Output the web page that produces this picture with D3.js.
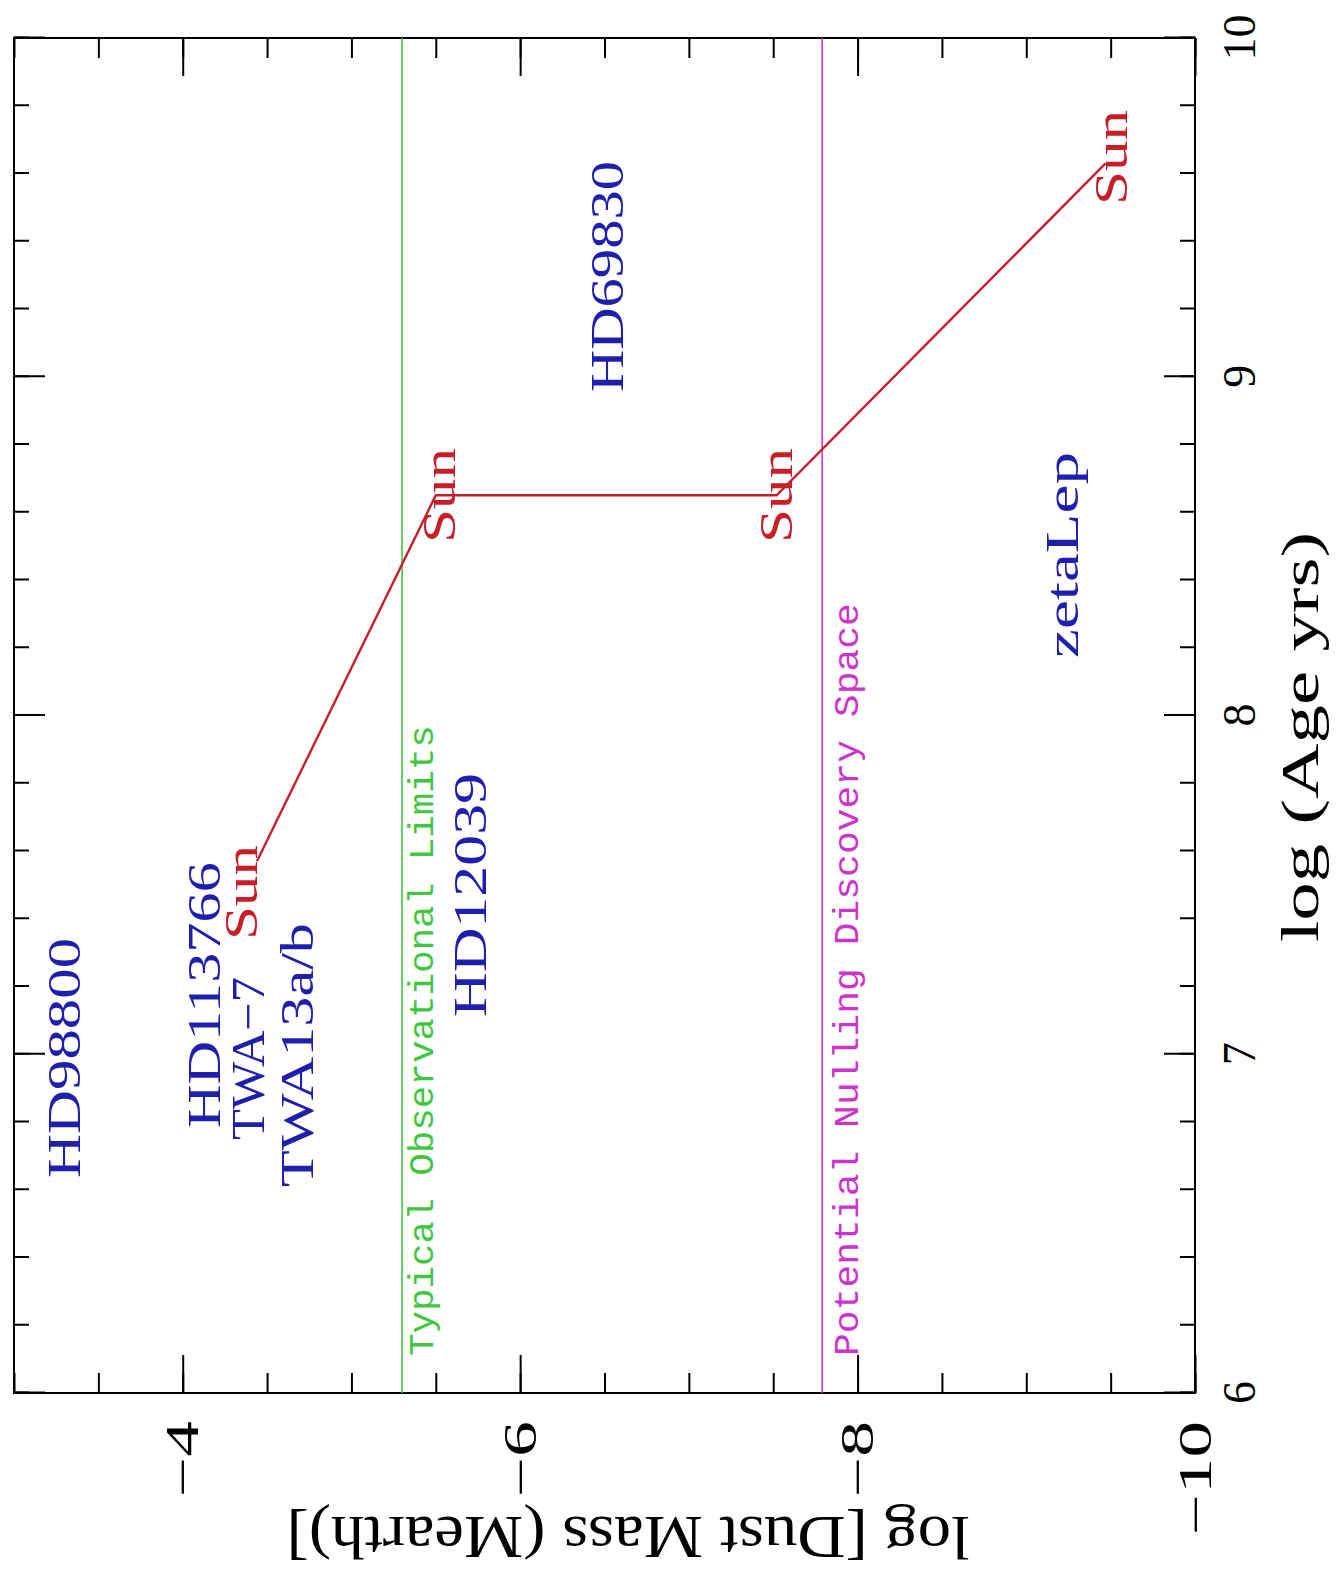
<!DOCTYPE html>
<html>
<head>
<meta charset="utf-8">
<script src="https://cdn.jsdelivr.net/npm/d3@7"></script>
<style>
  body { margin: 0; background: #fff; }
  svg { display: block; }
</style>
</head>
<body>
<svg id="chart" width="1340" height="1575"></svg>
<script>
// Dust-mass evolution track of the Sun (log age in years, log dust mass in Earth masses)
const trackAge  = [7.57, 8.65, 8.65, 9.63];
const trackMass = [-4.44, -5.50, -7.52, -9.47];

// "Sun" markers placed along the track (log age at text start, log mass at baseline)
const sunAge  = [7.337, 8.509, 8.509, 9.507];
const sunMass = [-4.44, -5.614, -7.612, -9.597];

// Reference limits drawn as lines of constant dust mass
const limitNames     = ["Typical Observational Limits", "Potential Nulling Discovery Space"];
const limitMass      = [-5.30, -7.79];
const limitLabelAge  = [6.109, 6.109];
const limitLabelMass = [-5.484, -8.003];

// Known debris-disk stars
const starNames = ["HD98800", "HD113766", "TWA\u22127", "TWA13a/b", "HD12039", "HD69830", "zetaLep"];
const starAge   = [6.635, 6.782, 6.747, 6.608, 7.11, 8.955, 8.17];
const starMass  = [-3.39, -4.22, -4.482, -4.772, -5.798, -6.612, -9.307];

// Axis tick labels
const ageTicks  = [6, 7, 8, 9, 10];
const massTicks = [-4, -6, -8, -10];

// ---- layout / style ----
const W = 1355;   // length of the age axis
const H = 1181;   // length of the dust-mass axis
const serif = "'Liberation Serif', 'Times New Roman', serif";
const mono  = "'Liberation Mono', 'Courier New', monospace";
const colors = { star: "#1f1fae", sun: "#c81e28", obs: "#3fc83f", nulling: "#cc33cc" };
const limitColors = [colors.obs, colors.nulling];
const starSpan  = { "HD98800": 240, "HD113766": 266, "TWA\u22127": 163, "TWA13a/b": 264,
                    "HD12039": 244, "HD69830": 231, "zetaLep": 206 };
const limitSpan = [631, 753];
const sunSpan = 95;

const svg = d3.select("#chart");
svg.append("rect").attr("width", 1340).attr("height", 1575).attr("fill", "#fff");

// The plot is laid out in landscape and turned a quarter turn counter-clockwise.
const g = svg.append("g").attr("transform", "translate(14,1393) rotate(-90)");

const x = d3.scaleLinear().domain([6, 10]).range([0, W]);   // log age
const y = d3.scaleLinear().domain([-3, -10]).range([0, H]); // log dust mass

function tidy(sel) {
  sel.select(".domain").remove();
  sel.selectAll(".tick line").attr("stroke", "#000").attr("stroke-width", 2);
  sel.attr("font-family", serif).attr("font-size", 46);
  sel.selectAll(".tick text").attr("fill", "#000");
}

// Age axis: minor and major ticks on both long edges, labels on one side
g.append("g").attr("transform", `translate(0,${H})`)
  .call(d3.axisBottom(x).ticks(20).tickSize(-15).tickFormat("")).call(tidy);
g.append("g").attr("transform", `translate(0,${H})`)
  .call(d3.axisBottom(x).tickValues(ageTicks).tickSize(-31).tickPadding(27).tickFormat(d3.format("d")))
  .call(tidy);
g.append("g")
  .call(d3.axisTop(x).ticks(20).tickSize(-15).tickFormat("")).call(tidy);
g.append("g")
  .call(d3.axisTop(x).tickValues(ageTicks).tickSize(-31).tickFormat("")).call(tidy);

// Dust-mass axis
g.append("g")
  .call(d3.axisLeft(y).ticks(14).tickSize(-20).tickFormat("")).call(tidy);
const massAxis = g.append("g")
  .call(d3.axisLeft(y).tickValues(massTicks).tickSize(-38).tickPadding(28).tickFormat(d3.format("d")))
  .call(tidy);
massAxis.selectAll(".tick text")
  .attr("dy", "0.33em")
  .attr("textLength", function () { return 38 * this.textContent.length; })
  .attr("lengthAdjust", "spacingAndGlyphs");
g.append("g").attr("transform", `translate(${W},0)`)
  .call(d3.axisRight(y).ticks(14).tickSize(-20).tickFormat("")).call(tidy);
g.append("g").attr("transform", `translate(${W},0)`)
  .call(d3.axisRight(y).tickValues(massTicks).tickSize(-38).tickFormat("")).call(tidy);

// Frame
g.append("rect").attr("x", 0).attr("y", 0).attr("width", W).attr("height", H)
  .attr("fill", "none").attr("stroke", "#000").attr("stroke-width", 2);

// Axis titles
g.append("text")
  .attr("x", 451).attr("y", H + 123)
  .attr("font-family", serif).attr("font-size", 52).attr("fill", "#000")
  .attr("textLength", 410).attr("lengthAdjust", "spacingAndGlyphs")
  .text("log (Age yrs)");
g.append("text")
  .attr("transform", "translate(-124,614) rotate(-90) scale(1,1.35)")
  .attr("text-anchor", "middle")
  .attr("font-family", serif).attr("font-size", 46).attr("fill", "#000")
  .attr("textLength", 683).attr("lengthAdjust", "spacingAndGlyphs")
  .text("log [Dust Mass (Mearth)]");

// Limit lines and their captions
limitMass.forEach((m, i) => {
  g.append("line")
    .attr("x1", x(6)).attr("x2", x(10)).attr("y1", y(m)).attr("y2", y(m))
    .attr("stroke", limitColors[i]).attr("stroke-width", 1.6);
  g.append("text")
    .attr("x", x(limitLabelAge[i])).attr("y", y(limitLabelMass[i]))
    .attr("font-family", mono).attr("font-size", 35).attr("fill", limitColors[i])
    .attr("textLength", limitSpan[i]).attr("lengthAdjust", "spacingAndGlyphs")
    .text(limitNames[i]);
});

// Solar track
const track = trackAge.map((a, i) => [a, trackMass[i]]);
g.append("path")
  .attr("d", d3.line().x(d => x(d[0])).y(d => y(d[1]))(track))
  .attr("fill", "none").attr("stroke", colors.sun).attr("stroke-width", 2.4);

g.selectAll("text.sun").data(sunAge).join("text")
  .attr("class", "sun")
  .attr("x", d => x(d)).attr("y", (d, i) => y(sunMass[i]))
  .attr("font-family", serif).attr("font-size", 47).attr("fill", colors.sun)
  .attr("textLength", sunSpan).attr("lengthAdjust", "spacingAndGlyphs")
  .text("Sun");

// Star names
g.selectAll("text.star").data(starNames).join("text")
  .attr("class", "star")
  .attr("x", (d, i) => x(starAge[i])).attr("y", (d, i) => y(starMass[i]))
  .attr("font-family", serif).attr("font-size", 47).attr("fill", colors.star)
  .attr("textLength", d => starSpan[d]).attr("lengthAdjust", "spacingAndGlyphs")
  .text(d => d);
</script>
</body>
</html>
